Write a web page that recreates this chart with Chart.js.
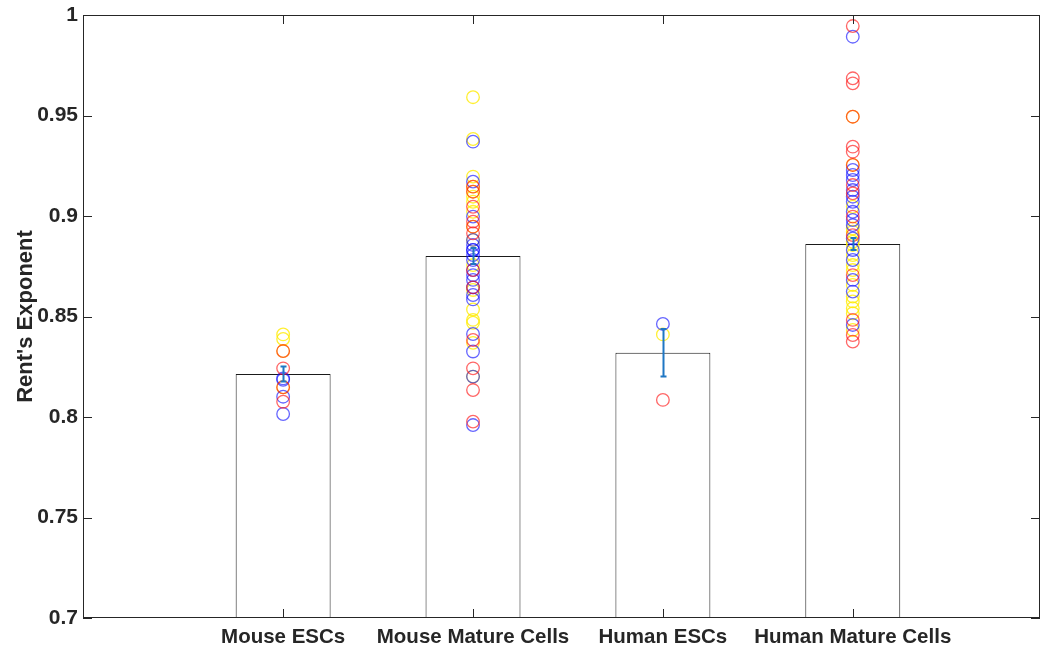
<!DOCTYPE html>
<html>
<head>
<meta charset="utf-8">
<script src="https://cdn.jsdelivr.net/npm/chart.js@4.4.1/dist/chart.umd.min.js"></script>
<style>
  body { margin: 0; background: #fff; }
  canvas { display: block; }
</style>
</head>
<body>
<canvas id="rentChart" width="1041" height="652"></canvas>
<script>
// Rent's exponent per cell type: bar = mean, blue line = standard error,
// circles = individual samples (red / blue / yellow groups)

const categories = ['Mouse ESCs', 'Mouse Mature Cells', 'Human ESCs', 'Human Mature Cells'];
const barMeans = [0.8214, 0.8801, 0.832, 0.8861];
const barErrors = [0.0037, 0.004, 0.0118, 0.003];
const yTickValues = [0.7, 0.75, 0.8, 0.85, 0.9, 0.95, 1];

// one inner list per category
const redPoints = [
  [0.8328, 0.8242, 0.8148, 0.8076],
  [0.9146, 0.9121, 0.9046, 0.8972, 0.8947, 0.8914, 0.8731, 0.8645, 0.8383, 0.8242, 0.8134, 0.7977],
  [0.8085],
  [0.9945, 0.9685, 0.966, 0.9494, 0.9345, 0.932, 0.9254, 0.9154, 0.9113, 0.8997, 0.8905, 0.8706, 0.8483, 0.8408, 0.8375]
];
const bluePoints = [
  [0.8192, 0.8185, 0.8101, 0.8015],
  [0.937, 0.9171, 0.8997, 0.8881, 0.8856, 0.8831, 0.8831, 0.8806, 0.8781, 0.8731, 0.8706, 0.8682, 0.8645, 0.8607, 0.8585, 0.8413, 0.8326, 0.8201, 0.796],
  [0.8463],
  [0.9892, 0.9229, 0.9204, 0.9179, 0.9129, 0.9096, 0.9071, 0.9021, 0.898, 0.8955, 0.8888, 0.8831, 0.8781, 0.8682, 0.8624, 0.8458]
];
const yellowPoints = [
  [0.8411, 0.8388, 0.8328, 0.8148],
  [0.9591, 0.9383, 0.9196, 0.9146, 0.9121, 0.9096, 0.9071, 0.9021, 0.8947, 0.8881, 0.8756, 0.8632, 0.8535, 0.8483, 0.8469, 0.8369, 0.8201],
  [0.8411],
  [0.9494, 0.9254, 0.9046, 0.8938, 0.8922, 0.8872, 0.8856, 0.8806, 0.8756, 0.8731, 0.8657, 0.8599, 0.8575, 0.8541, 0.8516, 0.8433]
];

const axisColor = '#262626';
const fontFamily = "'Liberation Sans', Arial, Helvetica, sans-serif";

function toXY(groups) {
  const out = [];
  groups.forEach((vals, i) => {
    vals.forEach(v => out.push({x: i + 1, y: v}));
  });
  return out;
}

function scatterSet(label, groups, color) {
  return {
    type: 'scatter',
    label: label,
    data: toXY(groups),
    pointStyle: 'circle',
    pointRadius: 6.3,
    pointBorderWidth: 1.3,
    pointBorderColor: color,
    pointBackgroundColor: 'rgba(0,0,0,0)',
    showLine: false,
    clip: false,
    order: 0
  };
}

// box, inward ticks and error bars (MATLAB style)
const matlabAxes = {
  id: 'matlabAxes',
  afterDatasetsDraw(chart) {
    const {ctx, chartArea: a, scales: {x, y}} = chart;
    const tl = 9;
    ctx.save();
    ctx.strokeStyle = axisColor;
    ctx.lineWidth = 1;
    ctx.strokeRect(a.left + 0.5, a.top + 0.5, a.right - a.left - 1, a.bottom - a.top - 1);
    ctx.beginPath();
    yTickValues.forEach(v => {
      const py = Math.round(y.getPixelForValue(v)) + 0.5;
      ctx.moveTo(a.left, py); ctx.lineTo(a.left + tl, py);
      ctx.moveTo(a.right, py); ctx.lineTo(a.right - tl, py);
    });
    categories.forEach((c, i) => {
      const px = Math.round(x.getPixelForValue(i + 1)) + 0.5;
      ctx.moveTo(px, a.bottom); ctx.lineTo(px, a.bottom - tl);
      ctx.moveTo(px, a.top); ctx.lineTo(px, a.top + tl);
    });
    ctx.stroke();

    // error bars
    ctx.strokeStyle = '#1f77c4';
    ctx.lineWidth = 2;
    ctx.beginPath();
    barMeans.forEach((m, i) => {
      const px = Math.round(x.getPixelForValue(i + 1)) + 0.5;
      const lo = y.getPixelForValue(m - barErrors[i]);
      const hi = y.getPixelForValue(m + barErrors[i]);
      ctx.moveTo(px, lo); ctx.lineTo(px, hi);
      ctx.moveTo(px - 3, lo); ctx.lineTo(px + 3, lo);
      ctx.moveTo(px - 3, hi); ctx.lineTo(px + 3, hi);
    });
    ctx.stroke();
    ctx.restore();
  }
};

const ctx = document.getElementById('rentChart').getContext('2d');

const chart = new Chart(ctx, {
  type: 'bar',
  data: {
    datasets: [
      {
        label: 'Mean',
        data: barMeans.map((m, i) => ({x: i + 1, y: m})),
        backgroundColor: '#ffffff',
        borderColor: '#1a1a1a',
        borderWidth: 1,
        categoryPercentage: 0.5,
        barPercentage: 1.0,
        order: 2
      },
      scatterSet('Red', redPoints, 'rgba(255, 20, 20, 0.65)'),
      scatterSet('Blue', bluePoints, 'rgba(20, 20, 255, 0.65)'),
      scatterSet('Yellow', yellowPoints, 'rgba(255, 235, 0, 0.8)')
    ]
  },
  options: {
    responsive: false,
    animation: false,
    devicePixelRatio: 1,
    layout: {autoPadding: false, padding: {top: 15, right: 1, left: 0, bottom: 0}},
    plugins: {
      legend: {display: false},
      tooltip: {enabled: false}
    },
    scales: {
      x: {
        type: 'linear',
        min: -0.054,
        max: 4.986,
        offset: false,
        grid: {display: false, drawTicks: false, tickLength: 0},
        border: {display: false},
        afterBuildTicks: scale => {
          scale.ticks = categories.map((c, i) => ({value: i + 1}));
        },
        afterFit: scale => {
          scale.height = 34;
          scale.paddingLeft = 0;
          scale.paddingRight = 0;
        },
        ticks: {
          autoSkip: false,
          maxRotation: 0,
          padding: 7,
          color: axisColor,
          font: {family: fontFamily, size: 20.5, weight: 'bold'},
          callback: value => categories[value - 1]
        }
      },
      y: {
        min: 0.7,
        max: 1,
        grid: {display: false, drawTicks: false, tickLength: 0},
        border: {display: false},
        afterBuildTicks: scale => {
          scale.ticks = yTickValues.map(v => ({value: v}));
        },
        afterFit: scale => {
          scale.width = 83;
          scale.paddingTop = 0;
          scale.paddingBottom = 0;
        },
        ticks: {
          padding: 5,
          color: axisColor,
          font: {family: fontFamily, size: 21, weight: 'bold'},
          callback: value => String(Number(value.toFixed(2)))
        },
        title: {
          display: true,
          text: "Rent's Exponent",
          color: axisColor,
          padding: {top: 13, bottom: 0},
          font: {family: fontFamily, size: 22, weight: 'bold'}
        }
      }
    }
  },
  plugins: [matlabAxes]
});
</script>
</body>
</html>
